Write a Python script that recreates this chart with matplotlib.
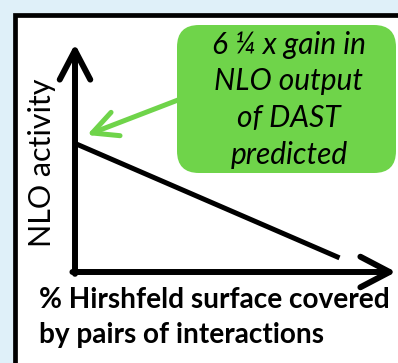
import matplotlib
matplotlib.use("Agg")
import matplotlib.pyplot as plt
from matplotlib.patches import Rectangle, FancyBboxPatch

# Data (schematic trend)
trend_x = [0.0, 0.824]
trend_y = [0.564, 0.062]
y_label = "NLO activity"
x_label_lines = ["% Hirshfeld surface covered", "by pairs of interactions"]
callout_lines = ["6 \u00bc x gain in", "NLO output", "of DAST", "predicted"]

W, H = 398, 363
fig = plt.figure(figsize=(W / 100, H / 100), dpi=100)
fig.patch.set_facecolor("#dff0f9")

# background overlay axes in pixel coords
bg = fig.add_axes([0, 0, 1, 1])
bg.set_xlim(0, W)
bg.set_ylim(H, 0)
bg.axis("off")
bg.add_patch(Rectangle((14.5, 14.5), 450, 450, facecolor="white",
                       edgecolor="black", linewidth=3.4))

font = "Lato"
bg.text(42, 163, y_label, rotation=90, ha="center", va="center",
        fontsize=22, family=font, color="black")
bg.text(39, 300, x_label_lines[0], ha="left", va="center", fontsize=20.2,
        family=font, fontweight="bold")
bg.text(39, 335, x_label_lines[1], ha="left", va="center", fontsize=20.2,
        family=font, fontweight="bold")

# callout box
box = FancyBboxPatch((177, 25), 219, 148,
                     boxstyle="round,pad=0,rounding_size=22",
                     facecolor="#6fd44a", edgecolor="none")
bg.add_patch(box)
for t, yy in zip(callout_lines, [45, 81, 118, 155]):
    bg.text(289, yy, t, ha="center", va="center", fontsize=21.5,
            family=font, style="italic", color="black")

bg.annotate("", xy=(87, 135), xytext=(178, 100),
            arrowprops=dict(arrowstyle="->,head_length=1.8,head_width=0.9",
                            color="#6fd44a", lw=3.6, shrinkA=0, shrinkB=0,
                            capstyle="round", joinstyle="round"))

# chart axes (pixel region x 75..396, y 44..272)
x0, x1, yt, yb = 75, 396, 44, 272
ax = fig.add_axes([x0 / W, 1 - yb / H, (x1 - x0) / W, (yb - yt) / H])
ax.set_xlim(0, 1)
ax.set_ylim(0, 1)
ax.axis("off")
ax.patch.set_alpha(0)
ax.plot(trend_x, trend_y, color="black", lw=3.6, solid_capstyle="butt",
        clip_on=False)
arrow_kw = dict(arrowstyle="->,head_length=2.1,head_width=1.1",
                color="black", lw=4.3, shrinkA=0, shrinkB=0,
                capstyle="round", joinstyle="round")
ax.annotate("", xy=(0, 1), xytext=(0, -0.008), xycoords="axes fraction",
            arrowprops=arrow_kw)
ax.annotate("", xy=(1, 0), xytext=(-0.008, 0), xycoords="axes fraction",
            arrowprops=arrow_kw)

fig.savefig("out.png", dpi=100, facecolor=fig.get_facecolor())
